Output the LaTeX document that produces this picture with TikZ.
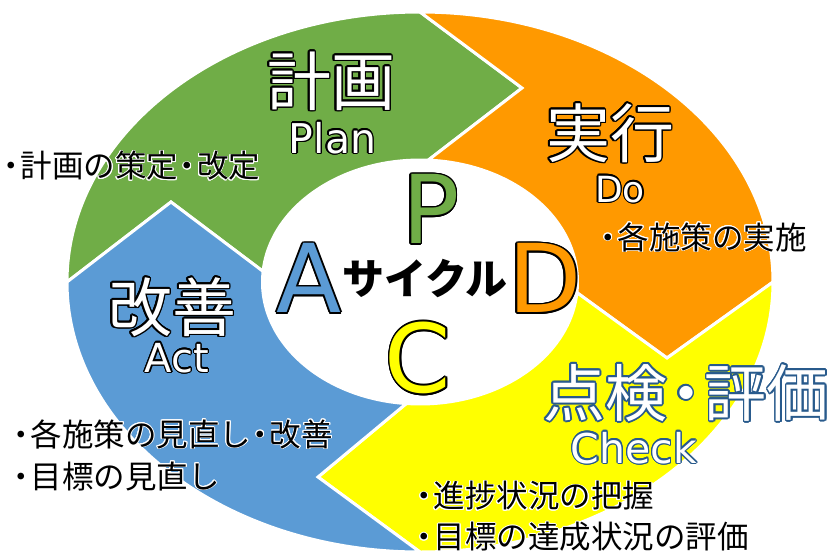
\documentclass[tikz,border=0pt]{standalone}
\usepackage{fontspec}
\newfontfamily\jp{Noto Sans CJK JP}
\newfontfamily\lat{DejaVu Sans}
\newcommand\dt{\makebox[0.6em][c]{・}}
\definecolor{pgreen}{RGB}{112,173,71}
\definecolor{porange}{RGB}{255,153,0}
\definecolor{pyellow}{RGB}{255,255,0}
\definecolor{pblue}{RGB}{91,155,213}
\definecolor{cblue}{RGB}{40,90,140}
\tikzset{
  every node/.style={inner sep=0pt},
  seg/.style={draw=white, line width=3pt, line join=miter},
  bigjp/.style={font=\jp\fontsize{64}{70}\selectfont},
  chkjp/.style={font=\jp\fontsize{62}{68}\selectfont},
  latlab/.style={font=\lat\fontsize{40}{44}\selectfont, anchor=base},
  letter/.style={font=\lat\fontsize{95}{100}\selectfont},
  small/.style={font=\jp\fontsize{31.5}{35}\selectfont, anchor=west},
  cyc/.style={font=\jp\bfseries\fontsize{42}{46}\selectfont},
}
% #1 name, #2 style, #3 position, #4 outline colour, #5 fill colour, #6 outline width, #7 text
\newcommand\otext[7]{%
  \foreach \ang in {0,22.5,...,337.5}{\node[#2,text=#4,shift={(\ang:#6)}] at (#3) {#7};}
  \node[#2,text=#5] (#1) at (#3) {#7};}
\begin{document}
\begin{tikzpicture}[x=1pt,y=-1pt]
\useasboundingbox (0,0) rectangle (830,555);
\fill[white] (0,0) rectangle (830,555);
% ring geometry
\coordinate (c) at (420,282);
\coordinate (oW) at (67,282);
\coordinate (oN) at (420,12);
\coordinate (oE) at (773,282);
\coordinate (oS) at (420,552);
\coordinate (iN) at (428.2,160.2);
\coordinate (iE) at (576.9,292.6);
\coordinate (iS) at (406.3,403.5);
\coordinate (iW) at (263.1,271.4);
\coordinate (tG) at (522,88);
\coordinate (tO) at (667,358);
\coordinate (tY) at (318,477);
\coordinate (tB) at (171,202);
% segments
\path[seg, fill=pgreen] (oW) arc[start angle=180, end angle=270, x radius=353, y radius=270]
  -- (tG) -- (iN) arc[start angle=-87, end angle=-175, x radius=157.5, y radius=122] -- (tB) -- cycle;
\path[seg, fill=porange] (oN) arc[start angle=-90, end angle=0, x radius=353, y radius=270]
  -- (tO) -- (iE) arc[start angle=5, end angle=-87, x radius=157.5, y radius=122] -- (tG) -- cycle;
\path[seg, fill=pyellow] (oE) arc[start angle=0, end angle=90, x radius=353, y radius=270]
  -- (tY) -- (iS) arc[start angle=95, end angle=5, x radius=157.5, y radius=122] -- (tO) -- cycle;
\path[seg, fill=pblue] (oS) arc[start angle=90, end angle=180, x radius=353, y radius=270]
  -- (tB) -- (iW) arc[start angle=185, end angle=95, x radius=157.5, y radius=122] -- (tY) -- cycle;
% titles
\otext{plan}{bigjp}{331,81}{black}{white}{1.6}{計画}
\otext{planen}{latlab,font=\lat\fontsize{41}{46}\selectfont}{332.5,153}{black}{white}{1.2}{Plan}
\otext{do}{bigjp}{610,133}{black}{white}{1.6}{実行}
\otext{doen}{latlab,font=\lat\fontsize{36}{40}\selectfont}{620,202}{black}{white}{1.2}{Do}
\otext{act}{bigjp}{172,307}{black}{white}{1.6}{改善}
\otext{acten}{latlab}{177,372}{black}{white}{1.2}{Act}
\otext{chk}{chkjp}{686,393}{cblue}{white}{1.6}{点検\dt 評価}
\otext{chken}{latlab,font=\lat\fontsize{41}{46}\selectfont}{634,463}{cblue}{white}{1.2}{Check}
% centre letters
\otext{P}{letter}{431,209}{black}{pgreen}{1.6}{P}
\otext{D}{letter}{545,278}{black}{porange}{1.6}{D}
\otext{C}{letter}{418,358}{black}{pyellow}{1.6}{C}
\otext{A}{letter}{309,278}{black}{pblue}{1.6}{A}
\node[cyc] (cycle) at (425,278) {サイクル};
% item texts
\otext{n1}{small}{1.5,166}{white}{black}{0.9}{\dt 計画の策定\dt 改定}
\otext{n2}{small}{598.5,237}{white}{black}{0.9}{\dt 各施策の実施}
\otext{n3}{small}{11.5,434}{white}{black}{0.9}{\dt 各施策の見直し\dt 改善}
\otext{n4}{small}{11.5,476}{white}{black}{0.9}{\dt 目標の見直し}
\otext{n5}{small}{414.5,496}{white}{black}{0.9}{\dt 進捗状況の把握}
\otext{n6}{small}{414.5,537}{white}{black}{0.9}{\dt 目標の達成状況の評価}
\end{tikzpicture}
\end{document}
